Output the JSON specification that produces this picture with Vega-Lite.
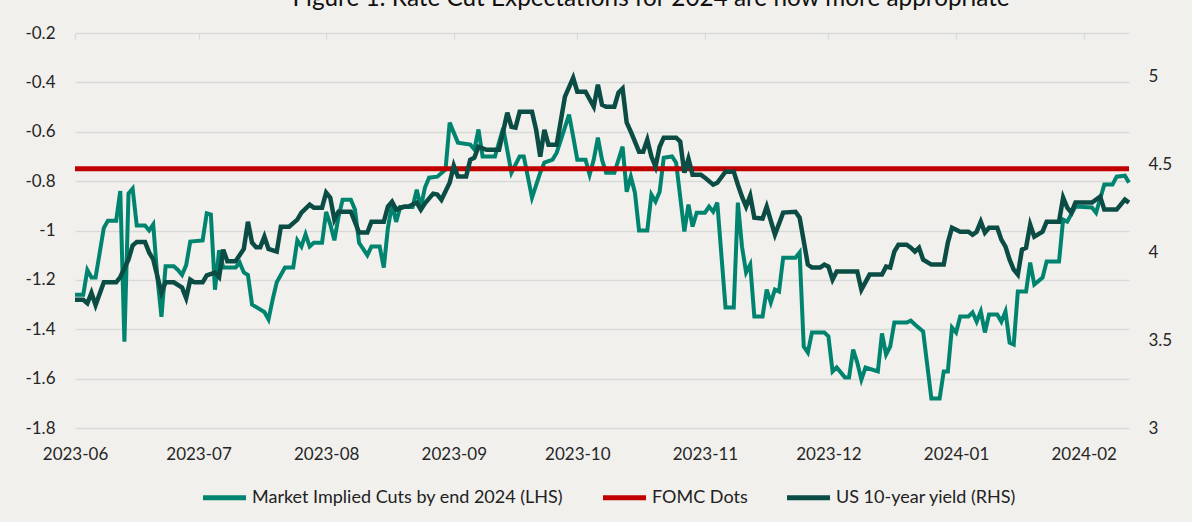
{
  "$schema": "https://vega.github.io/schema/vega-lite/v6.json",
  "width": 1054,
  "height": 395,
  "autosize": {"type": "none"},
  "padding": {"left": 75, "top": 33, "right": 63, "bottom": 94},
  "background": "#F1F0ED",
  "config": {
    "font": "Lato",
    "view": {"stroke": null},
    "legend": {
      "orient": "none",
      "legendX": 125,
      "legendY": 440,
      "direction": "horizontal",
      "title": null,
      "labelFontSize": 18,
      "labelColor": "#222222",
      "symbolType": "stroke",
      "symbolSize": 1850,
      "symbolStrokeWidth": 5,
      "labelOffset": 3,
      "columnPadding": 28,
      "labelLimit": 600
    }
  },
  "title": {
    "text": "Figure 1: Rate Cut Expectations for 2024 are now more appropriate",
    "fontSize": 24.3,
    "fontWeight": "normal",
    "color": "#111111",
    "anchor": "middle",
    "dx": 49,
    "dy": 6,
    "offset": 0,
    "baseline": "alphabetic"
  },
  "datasets": {
    "cuts": [
      {"date": "2023-06-01", "value": -1.26},
      {"date": "2023-06-03", "value": -1.26},
      {"date": "2023-06-04", "value": -1.16},
      {"date": "2023-06-05", "value": -1.19},
      {"date": "2023-06-06", "value": -1.19},
      {"date": "2023-06-08", "value": -0.99},
      {"date": "2023-06-09", "value": -0.96},
      {"date": "2023-06-11", "value": -0.96},
      {"date": "2023-06-12", "value": -0.84},
      {"date": "2023-06-13", "value": -1.45},
      {"date": "2023-06-14", "value": -0.85},
      {"date": "2023-06-15", "value": -0.83},
      {"date": "2023-06-16", "value": -0.98},
      {"date": "2023-06-18", "value": -0.98},
      {"date": "2023-06-19", "value": -1.0},
      {"date": "2023-06-20", "value": -0.975},
      {"date": "2023-06-21", "value": -1.19},
      {"date": "2023-06-22", "value": -1.35},
      {"date": "2023-06-23", "value": -1.145},
      {"date": "2023-06-25", "value": -1.145},
      {"date": "2023-06-26", "value": -1.16},
      {"date": "2023-06-27", "value": -1.18},
      {"date": "2023-06-28", "value": -1.14},
      {"date": "2023-06-29", "value": -1.045},
      {"date": "2023-07-02", "value": -1.04},
      {"date": "2023-07-03", "value": -0.93},
      {"date": "2023-07-04", "value": -0.935},
      {"date": "2023-07-05", "value": -1.24},
      {"date": "2023-07-06", "value": -1.08},
      {"date": "2023-07-07", "value": -1.15},
      {"date": "2023-07-10", "value": -1.15},
      {"date": "2023-07-11", "value": -1.13},
      {"date": "2023-07-12", "value": -1.17},
      {"date": "2023-07-13", "value": -1.18},
      {"date": "2023-07-14", "value": -1.30},
      {"date": "2023-07-17", "value": -1.33},
      {"date": "2023-07-18", "value": -1.36},
      {"date": "2023-07-19", "value": -1.28},
      {"date": "2023-07-20", "value": -1.21},
      {"date": "2023-07-22", "value": -1.15},
      {"date": "2023-07-24", "value": -1.15},
      {"date": "2023-07-25", "value": -1.04},
      {"date": "2023-07-26", "value": -1.065},
      {"date": "2023-07-27", "value": -1.015},
      {"date": "2023-07-28", "value": -1.065},
      {"date": "2023-07-29", "value": -1.05},
      {"date": "2023-07-31", "value": -1.05},
      {"date": "2023-08-01", "value": -0.925},
      {"date": "2023-08-02", "value": -0.975},
      {"date": "2023-08-03", "value": -1.04},
      {"date": "2023-08-04", "value": -0.945},
      {"date": "2023-08-05", "value": -0.875},
      {"date": "2023-08-07", "value": -0.875},
      {"date": "2023-08-08", "value": -0.915},
      {"date": "2023-08-09", "value": -1.05},
      {"date": "2023-08-11", "value": -1.10},
      {"date": "2023-08-12", "value": -1.065},
      {"date": "2023-08-14", "value": -1.065},
      {"date": "2023-08-15", "value": -1.15},
      {"date": "2023-08-16", "value": -0.99},
      {"date": "2023-08-17", "value": -0.895},
      {"date": "2023-08-18", "value": -0.965},
      {"date": "2023-08-19", "value": -0.905},
      {"date": "2023-08-22", "value": -0.905},
      {"date": "2023-08-23", "value": -0.835},
      {"date": "2023-08-24", "value": -0.905},
      {"date": "2023-08-25", "value": -0.826},
      {"date": "2023-08-26", "value": -0.786},
      {"date": "2023-08-28", "value": -0.782},
      {"date": "2023-08-30", "value": -0.753},
      {"date": "2023-08-31", "value": -0.563},
      {"date": "2023-09-02", "value": -0.644},
      {"date": "2023-09-05", "value": -0.652},
      {"date": "2023-09-06", "value": -0.672},
      {"date": "2023-09-07", "value": -0.591},
      {"date": "2023-09-08", "value": -0.70},
      {"date": "2023-09-11", "value": -0.70},
      {"date": "2023-09-13", "value": -0.585},
      {"date": "2023-09-15", "value": -0.766},
      {"date": "2023-09-17", "value": -0.70},
      {"date": "2023-09-18", "value": -0.70},
      {"date": "2023-09-20", "value": -0.867},
      {"date": "2023-09-22", "value": -0.766},
      {"date": "2023-09-23", "value": -0.725},
      {"date": "2023-09-25", "value": -0.713},
      {"date": "2023-09-26", "value": -0.685},
      {"date": "2023-09-29", "value": -0.531},
      {"date": "2023-09-30", "value": -0.62},
      {"date": "2023-10-01", "value": -0.713},
      {"date": "2023-10-03", "value": -0.713},
      {"date": "2023-10-04", "value": -0.774},
      {"date": "2023-10-05", "value": -0.713},
      {"date": "2023-10-06", "value": -0.624},
      {"date": "2023-10-07", "value": -0.713},
      {"date": "2023-10-08", "value": -0.766},
      {"date": "2023-10-10", "value": -0.766},
      {"date": "2023-10-12", "value": -0.66},
      {"date": "2023-10-13", "value": -0.843},
      {"date": "2023-10-14", "value": -0.782},
      {"date": "2023-10-15", "value": -0.847},
      {"date": "2023-10-16", "value": -1.0},
      {"date": "2023-10-18", "value": -1.0},
      {"date": "2023-10-19", "value": -0.855},
      {"date": "2023-10-20", "value": -0.883},
      {"date": "2023-10-21", "value": -0.843},
      {"date": "2023-10-22", "value": -0.705},
      {"date": "2023-10-24", "value": -0.70},
      {"date": "2023-10-25", "value": -0.725},
      {"date": "2023-10-27", "value": -1.004},
      {"date": "2023-10-28", "value": -0.895},
      {"date": "2023-10-29", "value": -0.984},
      {"date": "2023-10-30", "value": -0.928},
      {"date": "2023-11-01", "value": -0.928},
      {"date": "2023-11-02", "value": -0.903},
      {"date": "2023-11-03", "value": -0.924},
      {"date": "2023-11-04", "value": -0.887},
      {"date": "2023-11-06", "value": -1.312},
      {"date": "2023-11-08", "value": -1.312},
      {"date": "2023-11-09", "value": -0.887},
      {"date": "2023-11-10", "value": -1.065},
      {"date": "2023-11-11", "value": -1.17},
      {"date": "2023-11-12", "value": -1.138},
      {"date": "2023-11-13", "value": -1.348},
      {"date": "2023-11-15", "value": -1.348},
      {"date": "2023-11-16", "value": -1.239},
      {"date": "2023-11-17", "value": -1.292},
      {"date": "2023-11-18", "value": -1.239},
      {"date": "2023-11-19", "value": -1.247},
      {"date": "2023-11-20", "value": -1.11},
      {"date": "2023-11-23", "value": -1.11},
      {"date": "2023-11-24", "value": -1.089},
      {"date": "2023-11-25", "value": -1.47},
      {"date": "2023-11-26", "value": -1.494},
      {"date": "2023-11-27", "value": -1.413},
      {"date": "2023-11-30", "value": -1.413},
      {"date": "2023-12-01", "value": -1.429},
      {"date": "2023-12-02", "value": -1.571},
      {"date": "2023-12-03", "value": -1.555},
      {"date": "2023-12-05", "value": -1.595},
      {"date": "2023-12-06", "value": -1.595},
      {"date": "2023-12-07", "value": -1.482},
      {"date": "2023-12-08", "value": -1.535},
      {"date": "2023-12-09", "value": -1.604},
      {"date": "2023-12-10", "value": -1.555},
      {"date": "2023-12-13", "value": -1.571},
      {"date": "2023-12-14", "value": -1.417},
      {"date": "2023-12-15", "value": -1.502},
      {"date": "2023-12-16", "value": -1.47},
      {"date": "2023-12-17", "value": -1.373},
      {"date": "2023-12-20", "value": -1.373},
      {"date": "2023-12-21", "value": -1.365},
      {"date": "2023-12-22", "value": -1.381},
      {"date": "2023-12-24", "value": -1.409},
      {"date": "2023-12-26", "value": -1.681},
      {"date": "2023-12-28", "value": -1.681},
      {"date": "2023-12-29", "value": -1.571},
      {"date": "2023-12-30", "value": -1.571},
      {"date": "2023-12-31", "value": -1.393},
      {"date": "2024-01-01", "value": -1.413},
      {"date": "2024-01-02", "value": -1.348},
      {"date": "2024-01-04", "value": -1.348},
      {"date": "2024-01-05", "value": -1.332},
      {"date": "2024-01-06", "value": -1.369},
      {"date": "2024-01-07", "value": -1.328},
      {"date": "2024-01-08", "value": -1.413},
      {"date": "2024-01-09", "value": -1.34},
      {"date": "2024-01-11", "value": -1.34},
      {"date": "2024-01-12", "value": -1.369},
      {"date": "2024-01-13", "value": -1.328},
      {"date": "2024-01-14", "value": -1.454},
      {"date": "2024-01-15", "value": -1.462},
      {"date": "2024-01-16", "value": -1.247},
      {"date": "2024-01-18", "value": -1.247},
      {"date": "2024-01-19", "value": -1.13},
      {"date": "2024-01-20", "value": -1.219},
      {"date": "2024-01-22", "value": -1.191},
      {"date": "2024-01-23", "value": -1.126},
      {"date": "2024-01-26", "value": -1.126},
      {"date": "2024-01-27", "value": -0.956},
      {"date": "2024-01-28", "value": -0.964},
      {"date": "2024-01-30", "value": -0.903},
      {"date": "2024-02-03", "value": -0.907},
      {"date": "2024-02-04", "value": -0.928},
      {"date": "2024-02-06", "value": -0.814},
      {"date": "2024-02-08", "value": -0.814},
      {"date": "2024-02-09", "value": -0.782},
      {"date": "2024-02-11", "value": -0.778},
      {"date": "2024-02-12", "value": -0.806}
    ],
    "fomc": [
      {"date": "2023-06-01", "value": -0.75},
      {"date": "2024-02-12", "value": -0.75}
    ],
    "yield": [
      {"date": "2023-06-01", "value": 3.73},
      {"date": "2023-06-03", "value": 3.73},
      {"date": "2023-06-04", "value": 3.71},
      {"date": "2023-06-05", "value": 3.77},
      {"date": "2023-06-06", "value": 3.70},
      {"date": "2023-06-08", "value": 3.83},
      {"date": "2023-06-11", "value": 3.83},
      {"date": "2023-06-12", "value": 3.86},
      {"date": "2023-06-14", "value": 3.96},
      {"date": "2023-06-15", "value": 4.04},
      {"date": "2023-06-16", "value": 4.06},
      {"date": "2023-06-18", "value": 4.06},
      {"date": "2023-06-19", "value": 4.00},
      {"date": "2023-06-20", "value": 3.96},
      {"date": "2023-06-22", "value": 3.77},
      {"date": "2023-06-23", "value": 3.83},
      {"date": "2023-06-25", "value": 3.83},
      {"date": "2023-06-27", "value": 3.80},
      {"date": "2023-06-28", "value": 3.74},
      {"date": "2023-06-29", "value": 3.845},
      {"date": "2023-06-30", "value": 3.83},
      {"date": "2023-07-02", "value": 3.83},
      {"date": "2023-07-03", "value": 3.87},
      {"date": "2023-07-05", "value": 3.885},
      {"date": "2023-07-06", "value": 3.86},
      {"date": "2023-07-07", "value": 4.016},
      {"date": "2023-07-08", "value": 3.95},
      {"date": "2023-07-10", "value": 3.95},
      {"date": "2023-07-12", "value": 4.02},
      {"date": "2023-07-13", "value": 4.175},
      {"date": "2023-07-14", "value": 4.056},
      {"date": "2023-07-15", "value": 4.03},
      {"date": "2023-07-16", "value": 4.03},
      {"date": "2023-07-17", "value": 4.09},
      {"date": "2023-07-18", "value": 4.02},
      {"date": "2023-07-20", "value": 4.005},
      {"date": "2023-07-21", "value": 4.147},
      {"date": "2023-07-23", "value": 4.147},
      {"date": "2023-07-25", "value": 4.187},
      {"date": "2023-07-26", "value": 4.227},
      {"date": "2023-07-28", "value": 4.272},
      {"date": "2023-07-29", "value": 4.255},
      {"date": "2023-07-31", "value": 4.255},
      {"date": "2023-08-01", "value": 4.341},
      {"date": "2023-08-02", "value": 4.312},
      {"date": "2023-08-03", "value": 4.187},
      {"date": "2023-08-04", "value": 4.232},
      {"date": "2023-08-07", "value": 4.232},
      {"date": "2023-08-09", "value": 4.113},
      {"date": "2023-08-11", "value": 4.113},
      {"date": "2023-08-12", "value": 4.175},
      {"date": "2023-08-15", "value": 4.175},
      {"date": "2023-08-16", "value": 4.261},
      {"date": "2023-08-17", "value": 4.289},
      {"date": "2023-08-18", "value": 4.244},
      {"date": "2023-08-20", "value": 4.261},
      {"date": "2023-08-21", "value": 4.261},
      {"date": "2023-08-23", "value": 4.284},
      {"date": "2023-08-24", "value": 4.244},
      {"date": "2023-08-25", "value": 4.28},
      {"date": "2023-08-27", "value": 4.335},
      {"date": "2023-08-28", "value": 4.33},
      {"date": "2023-08-29", "value": 4.30},
      {"date": "2023-08-31", "value": 4.397},
      {"date": "2023-09-01", "value": 4.494},
      {"date": "2023-09-02", "value": 4.432},
      {"date": "2023-09-04", "value": 4.432},
      {"date": "2023-09-05", "value": 4.528},
      {"date": "2023-09-06", "value": 4.54},
      {"date": "2023-09-07", "value": 4.602},
      {"date": "2023-09-09", "value": 4.585},
      {"date": "2023-09-12", "value": 4.585},
      {"date": "2023-09-14", "value": 4.796},
      {"date": "2023-09-15", "value": 4.716},
      {"date": "2023-09-16", "value": 4.711},
      {"date": "2023-09-17", "value": 4.801},
      {"date": "2023-09-20", "value": 4.801},
      {"date": "2023-09-21", "value": 4.699},
      {"date": "2023-09-22", "value": 4.546},
      {"date": "2023-09-23", "value": 4.699},
      {"date": "2023-09-24", "value": 4.614},
      {"date": "2023-09-26", "value": 4.614},
      {"date": "2023-09-28", "value": 4.887},
      {"date": "2023-09-30", "value": 4.995},
      {"date": "2023-10-01", "value": 4.916},
      {"date": "2023-10-03", "value": 4.916},
      {"date": "2023-10-05", "value": 4.83},
      {"date": "2023-10-06", "value": 4.956},
      {"date": "2023-10-07", "value": 4.841},
      {"date": "2023-10-08", "value": 4.83},
      {"date": "2023-10-10", "value": 4.83},
      {"date": "2023-10-11", "value": 4.91},
      {"date": "2023-10-12", "value": 4.933},
      {"date": "2023-10-13", "value": 4.739},
      {"date": "2023-10-14", "value": 4.688},
      {"date": "2023-10-16", "value": 4.574},
      {"date": "2023-10-17", "value": 4.574},
      {"date": "2023-10-18", "value": 4.642},
      {"date": "2023-10-19", "value": 4.546},
      {"date": "2023-10-20", "value": 4.489},
      {"date": "2023-10-21", "value": 4.602},
      {"date": "2023-10-22", "value": 4.654},
      {"date": "2023-10-25", "value": 4.654},
      {"date": "2023-10-26", "value": 4.631},
      {"date": "2023-10-27", "value": 4.454},
      {"date": "2023-10-28", "value": 4.534},
      {"date": "2023-10-29", "value": 4.443},
      {"date": "2023-10-31", "value": 4.443},
      {"date": "2023-11-01", "value": 4.426},
      {"date": "2023-11-03", "value": 4.386},
      {"date": "2023-11-04", "value": 4.397},
      {"date": "2023-11-06", "value": 4.46},
      {"date": "2023-11-08", "value": 4.46},
      {"date": "2023-11-09", "value": 4.386},
      {"date": "2023-11-10", "value": 4.318},
      {"date": "2023-11-11", "value": 4.261},
      {"date": "2023-11-12", "value": 4.323},
      {"date": "2023-11-13", "value": 4.198},
      {"date": "2023-11-15", "value": 4.193},
      {"date": "2023-11-16", "value": 4.261},
      {"date": "2023-11-18", "value": 4.101},
      {"date": "2023-11-20", "value": 4.227},
      {"date": "2023-11-23", "value": 4.232},
      {"date": "2023-11-24", "value": 4.198},
      {"date": "2023-11-26", "value": 3.931},
      {"date": "2023-11-27", "value": 3.914},
      {"date": "2023-11-29", "value": 3.914},
      {"date": "2023-11-30", "value": 3.931},
      {"date": "2023-12-01", "value": 3.919},
      {"date": "2023-12-02", "value": 3.845},
      {"date": "2023-12-03", "value": 3.891},
      {"date": "2023-12-08", "value": 3.891},
      {"date": "2023-12-09", "value": 3.788},
      {"date": "2023-12-11", "value": 3.874},
      {"date": "2023-12-14", "value": 3.874},
      {"date": "2023-12-15", "value": 3.919},
      {"date": "2023-12-16", "value": 3.914},
      {"date": "2023-12-17", "value": 4.005},
      {"date": "2023-12-18", "value": 4.044},
      {"date": "2023-12-20", "value": 4.044},
      {"date": "2023-12-21", "value": 4.027},
      {"date": "2023-12-22", "value": 4.005},
      {"date": "2023-12-23", "value": 4.027},
      {"date": "2023-12-24", "value": 3.959},
      {"date": "2023-12-26", "value": 3.931},
      {"date": "2023-12-29", "value": 3.931},
      {"date": "2023-12-30", "value": 4.056},
      {"date": "2023-12-31", "value": 4.141},
      {"date": "2024-01-02", "value": 4.118},
      {"date": "2024-01-04", "value": 4.118},
      {"date": "2024-01-05", "value": 4.101},
      {"date": "2024-01-06", "value": 4.118},
      {"date": "2024-01-07", "value": 4.175},
      {"date": "2024-01-08", "value": 4.113},
      {"date": "2024-01-09", "value": 4.141},
      {"date": "2024-01-11", "value": 4.141},
      {"date": "2024-01-12", "value": 4.073},
      {"date": "2024-01-13", "value": 4.033},
      {"date": "2024-01-14", "value": 3.959},
      {"date": "2024-01-15", "value": 3.902},
      {"date": "2024-01-16", "value": 3.874},
      {"date": "2024-01-17", "value": 4.016},
      {"date": "2024-01-18", "value": 4.027},
      {"date": "2024-01-19", "value": 4.158},
      {"date": "2024-01-20", "value": 4.09},
      {"date": "2024-01-22", "value": 4.118},
      {"date": "2024-01-23", "value": 4.175},
      {"date": "2024-01-26", "value": 4.175},
      {"date": "2024-01-27", "value": 4.312},
      {"date": "2024-01-28", "value": 4.255},
      {"date": "2024-01-29", "value": 4.227},
      {"date": "2024-01-30", "value": 4.284},
      {"date": "2024-02-03", "value": 4.284},
      {"date": "2024-02-05", "value": 4.318},
      {"date": "2024-02-06", "value": 4.244},
      {"date": "2024-02-09", "value": 4.244},
      {"date": "2024-02-11", "value": 4.301},
      {"date": "2024-02-12", "value": 4.284}
    ]
  },
  "layer": [
    {
      "layer": [
        {
          "data": {"name": "cuts"},
          "mark": {"type": "line", "strokeWidth": 4},
          "encoding": {
            "x": {
              "field": "date", "type": "temporal",
              "scale": {"type": "utc", "domain": [{"year": 2023, "month": 6, "date": 1, "utc": true}, {"year": 2024, "month": 2, "date": 12, "utc": true}]},
              "axis": {
                "values": [
                  {"year": 2023, "month": 6, "date": 1, "utc": true},
                  {"year": 2023, "month": 7, "date": 1, "utc": true},
                  {"year": 2023, "month": 8, "date": 1, "utc": true},
                  {"year": 2023, "month": 9, "date": 1, "utc": true},
                  {"year": 2023, "month": 10, "date": 1, "utc": true},
                  {"year": 2023, "month": 11, "date": 1, "utc": true},
                  {"year": 2023, "month": 12, "date": 1, "utc": true},
                  {"year": 2024, "month": 1, "date": 1, "utc": true},
                  {"year": 2024, "month": 2, "date": 1, "utc": true}
                ],
                "labelExpr": "utcFormat(datum.value, '%Y-%m')",
                "title": null, "domain": false, "ticks": false, "grid": false,
                "labelPadding": 18, "labelFontSize": 17, "labelColor": "#262626",
                "labelFlush": false, "labelOverlap": false
              }
            },
            "y": {
              "field": "value", "type": "quantitative",
              "scale": {"domain": [-1.8, -0.2], "nice": false, "zero": false},
              "axis": {
                "values": [-1.8, -1.6, -1.4, -1.2, -1, -0.8, -0.6, -0.4, -0.2],
                "labelExpr": "datum.value < 0 ? '-' + format(-datum.value, '~g') : format(datum.value, '~g')",
                "title": null, "domain": false, "ticks": false,
                "grid": true, "gridColor": "#D9D9D9", "gridWidth": 1.3,
                "labelPadding": 20, "labelFontSize": 17, "labelColor": "#262626"
              }
            },
            "color": {
              "datum": "Market Implied Cuts by end 2024 (LHS)", "type": "nominal",
              "scale": {
                "domain": ["Market Implied Cuts by end 2024 (LHS)", "FOMC Dots", "US 10-year yield (RHS)"],
                "range": ["#00846F", "#C00000", "#0B4D44"]
              }
            }
          }
        },
        {
          "data": {"name": "fomc"},
          "mark": {"type": "line", "strokeWidth": 5},
          "encoding": {
            "x": {"field": "date", "type": "temporal"},
            "y": {"field": "value", "type": "quantitative"},
            "color": {"datum": "FOMC Dots", "type": "nominal"}
          }
        }
      ]
    },
    {
      "data": {"name": "yield"},
      "mark": {"type": "line", "strokeWidth": 4.5},
      "encoding": {
        "x": {
          "field": "date", "type": "temporal",
          "axis": {
            "orient": "bottom", "offset": -395,
            "values": [
              {"year": 2023, "month": 6, "date": 1, "utc": true},
              {"year": 2023, "month": 7, "date": 1, "utc": true},
              {"year": 2023, "month": 8, "date": 1, "utc": true},
              {"year": 2023, "month": 9, "date": 1, "utc": true},
              {"year": 2023, "month": 10, "date": 1, "utc": true},
              {"year": 2023, "month": 11, "date": 1, "utc": true},
              {"year": 2023, "month": 12, "date": 1, "utc": true},
              {"year": 2024, "month": 1, "date": 1, "utc": true},
              {"year": 2024, "month": 2, "date": 1, "utc": true}
            ],
            "labels": false, "domain": false, "grid": false, "title": null,
            "ticks": true, "tickSize": 6, "tickColor": "#D9D9D9", "tickWidth": 1.3
          }
        },
        "y": {
          "field": "value", "type": "quantitative",
          "scale": {"domain": [3, 5.25], "nice": false, "zero": false},
          "axis": {
            "orient": "right",
            "values": [3, 3.5, 4, 4.5, 5],
            "format": "~g",
            "title": null, "domain": false, "ticks": false, "grid": false,
            "labelPadding": 19, "labelFontSize": 17, "labelColor": "#262626"
          }
        },
        "color": {"datum": "US 10-year yield (RHS)", "type": "nominal"}
      }
    }
  ],
  "resolve": {"scale": {"y": "independent"}, "axis": {"x": "independent"}}
}
